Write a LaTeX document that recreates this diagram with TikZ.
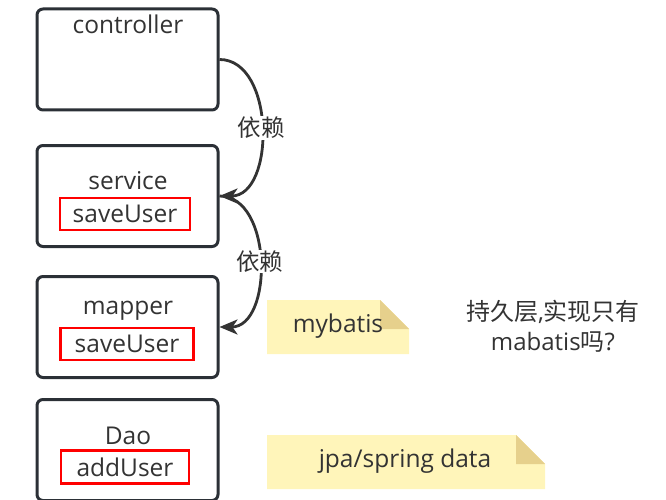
\documentclass[tikz,border=0pt]{standalone}
\usepackage{fontspec}
\setmainfont{Open Sans}
\newfontfamily\cjk{Noto Sans CJK SC}
\usetikzlibrary{arrows.meta, positioning}
\definecolor{boxline}{HTML}{2B3036}
\definecolor{arrline}{HTML}{333333}
\definecolor{txt}{HTML}{333333}
\definecolor{notefill}{HTML}{FFF5BA}
\definecolor{notefold}{HTML}{E6D08C}
\tikzset{
	layer/.style={draw=boxline, line width=3pt, rounded corners=6pt, minimum width=181pt, minimum height=101pt},
	method/.style={draw=red, line width=2.4pt, minimum width=130pt, minimum height=32pt, inner sep=0pt},
	dep/.style={-{Stealth[length=18pt, width=15pt, inset=5pt]}, draw=arrline, line width=2.8pt, out=0, in=0, looseness=1.05},
	tag/.style={fill=white, inner sep=1pt, font=\cjk\fontsize{23.5}{26}\selectfont},
	note/.pic={
		\fill [notefill] (0,0) -- (\notew-29,0) -- (\notew,29) -- (\notew,\noteh) -- (0,\noteh) -- cycle;
		\fill [notefold] (\notew-29,0) -- (\notew,29) -- (\notew-29,29) -- cycle;
	}
}

\begin{document}
\begin{tikzpicture}[x=1pt, y=-1pt, font=\fontsize{24.5}{30}\selectfont, text=txt]
	\useasboundingbox (0,0) rectangle (666,500);

	\node[layer] (C) at (127.5,59.5)	{};
	\node[layer] (S) at (127.5,196)	{};
	\node[layer] (M) at (127.5,327)	{};
	\node[layer] (D) at (127.5,450)	{};

	\node (Ct) at (128,24)	{controller};
	\node (St) at (128,181)	{service};
	\node[method] (Sm) at (125,214)	{saveUser};
	\node (Mt) at (128,311)	{mapper};
	\node[method, minimum width=133pt] (Mm) at (127,344)	{saveUser};
	\node (Dt) at (128,436)	{Dao};
	\node[method, minimum width=128pt, minimum height=33pt] (Dm) at (125,467)	{addUser};

	\draw[dep] (C.east) to node[tag] {依赖}	(S.east);
	\draw[dep] (S.east) to node[tag] {依赖}	(M.east);

	\def\notew{142}\def\noteh{54}
	\pic at (267,300) {note};
	\node (Nm) at (338,326)	{mybatis};
	\def\notew{278}\def\noteh{54}
	\pic at (267,435) {note};
	\node (Nj) at (405,461)	{jpa/spring data};

	\node[align=center, font=\fontsize{24}{30}\selectfont] (Q) at (553,326)	{{\cjk 持久层},{\cjk 实现只有}\\mabatis{\cjk 吗}?};
\end{tikzpicture}
\end{document}
